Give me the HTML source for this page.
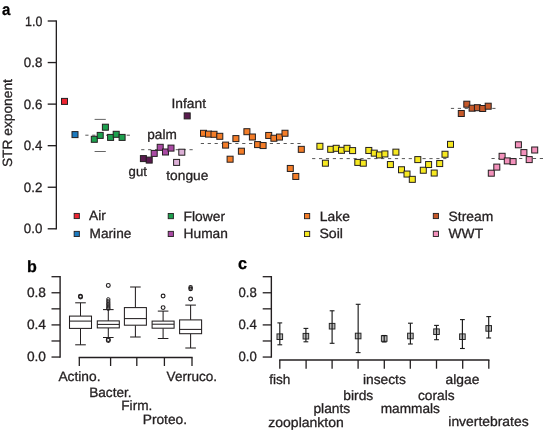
<!DOCTYPE html>
<html><head><meta charset="utf-8"><title>Figure</title>
<style>html,body{margin:0;padding:0;background:#fff}svg{display:block}text{font-family:"Liberation Sans",sans-serif;stroke:#231f20;stroke-width:0.3px;paint-order:stroke;text-rendering:geometricPrecision}</style>
</head><body>
<svg width="543" height="430" viewBox="0 0 543 430">
<rect width="543" height="430" fill="#fff"/>
<line x1="56.35" y1="20.40" x2="56.35" y2="229.40" stroke="#231f20" stroke-width="1.35" stroke-linecap="butt"/>
<line x1="47.70" y1="21.00" x2="56.35" y2="21.00" stroke="#231f20" stroke-width="1.35" stroke-linecap="butt"/>
<text transform="translate(25.10 25.50) scale(0.9166 1)" font-size="13.5" fill="#231f20">1.0</text>
<line x1="47.70" y1="62.56" x2="56.35" y2="62.56" stroke="#231f20" stroke-width="1.35" stroke-linecap="butt"/>
<text transform="translate(23.80 67.06) scale(0.9859 1)" font-size="13.5" fill="#231f20">0.8</text>
<line x1="47.70" y1="104.12" x2="56.35" y2="104.12" stroke="#231f20" stroke-width="1.35" stroke-linecap="butt"/>
<text transform="translate(23.80 108.62) scale(0.9859 1)" font-size="13.5" fill="#231f20">0.6</text>
<line x1="47.70" y1="145.68" x2="56.35" y2="145.68" stroke="#231f20" stroke-width="1.35" stroke-linecap="butt"/>
<text transform="translate(23.80 150.18) scale(0.9859 1)" font-size="13.5" fill="#231f20">0.4</text>
<line x1="47.70" y1="187.24" x2="56.35" y2="187.24" stroke="#231f20" stroke-width="1.35" stroke-linecap="butt"/>
<text transform="translate(23.80 191.74) scale(0.9859 1)" font-size="13.5" fill="#231f20">0.2</text>
<line x1="47.70" y1="228.80" x2="56.35" y2="228.80" stroke="#231f20" stroke-width="1.35" stroke-linecap="butt"/>
<text transform="translate(23.80 233.30) scale(0.9859 1)" font-size="13.5" fill="#231f20">0.0</text>
<text transform="translate(1.90 15.00) scale(0.9230 1)" font-size="16.3" font-weight="700" fill="#000">a</text>
<text transform="translate(12.00 167.10) rotate(-90) scale(1.0281 1)" font-size="13.4" fill="#231f20">STR exponent</text>
<line x1="85.30" y1="135.20" x2="130.30" y2="135.20" stroke="#3a3a3a" stroke-width="0.85" stroke-dasharray="3.2 3.7" stroke-linecap="butt"/>
<line x1="94.60" y1="119.40" x2="105.80" y2="119.40" stroke="#555" stroke-width="0.9" stroke-linecap="butt"/>
<line x1="94.60" y1="151.50" x2="105.80" y2="151.50" stroke="#555" stroke-width="0.9" stroke-linecap="butt"/>
<line x1="141.20" y1="149.70" x2="194.10" y2="149.70" stroke="#3a3a3a" stroke-width="0.85" stroke-dasharray="3.2 3.7" stroke-linecap="butt"/>
<line x1="200.80" y1="143.50" x2="304.10" y2="143.50" stroke="#3a3a3a" stroke-width="0.85" stroke-dasharray="3.2 3.7" stroke-linecap="butt"/>
<line x1="312.10" y1="158.60" x2="449.20" y2="158.60" stroke="#3a3a3a" stroke-width="0.85" stroke-dasharray="3.2 3.7" stroke-linecap="butt"/>
<line x1="450.90" y1="108.40" x2="495.80" y2="108.40" stroke="#3a3a3a" stroke-width="0.85" stroke-dasharray="3.2 3.7" stroke-linecap="butt"/>
<line x1="491.50" y1="158.50" x2="543.00" y2="158.50" stroke="#3a3a3a" stroke-width="0.85" stroke-dasharray="3.2 3.7" stroke-linecap="butt"/>
<rect x="61.50" y="98.40" width="6.00" height="6.00" fill="#ed2431" stroke="#231f20" stroke-width="1.0"/>
<rect x="72.00" y="131.60" width="6.00" height="6.00" fill="#1c7abf" stroke="#231f20" stroke-width="1.0"/>
<rect x="91.30" y="136.30" width="6.00" height="6.00" fill="#1da04e" stroke="#231f20" stroke-width="1.0"/>
<rect x="97.20" y="132.40" width="6.00" height="6.00" fill="#1da04e" stroke="#231f20" stroke-width="1.0"/>
<rect x="102.40" y="124.20" width="6.00" height="6.00" fill="#1da04e" stroke="#231f20" stroke-width="1.0"/>
<rect x="107.60" y="134.40" width="6.00" height="6.00" fill="#1da04e" stroke="#231f20" stroke-width="1.0"/>
<rect x="113.20" y="131.30" width="6.00" height="6.00" fill="#1da04e" stroke="#231f20" stroke-width="1.0"/>
<rect x="119.10" y="134.40" width="6.00" height="6.00" fill="#1da04e" stroke="#231f20" stroke-width="1.0"/>
<rect x="140.40" y="155.60" width="6.00" height="6.00" fill="#5a1a4f" stroke="#231f20" stroke-width="1.0"/>
<rect x="146.20" y="157.10" width="6.00" height="6.00" fill="#5a1a4f" stroke="#231f20" stroke-width="1.0"/>
<rect x="151.20" y="150.40" width="6.00" height="6.00" fill="#a94aa3" stroke="#231f20" stroke-width="1.0"/>
<rect x="157.20" y="144.30" width="6.00" height="6.00" fill="#a94aa3" stroke="#231f20" stroke-width="1.0"/>
<rect x="162.50" y="149.00" width="6.00" height="6.00" fill="#a94aa3" stroke="#231f20" stroke-width="1.0"/>
<rect x="168.00" y="145.10" width="6.00" height="6.00" fill="#a94aa3" stroke="#231f20" stroke-width="1.0"/>
<rect x="178.80" y="149.20" width="6.00" height="6.00" fill="#dcb0d6" stroke="#231f20" stroke-width="1.0"/>
<rect x="173.60" y="159.40" width="6.00" height="6.00" fill="#dcb0d6" stroke="#231f20" stroke-width="1.0"/>
<rect x="184.20" y="112.90" width="6.00" height="6.00" fill="#5a1a4f" stroke="#231f20" stroke-width="1.0"/>
<rect x="200.50" y="130.30" width="6.00" height="6.00" fill="#f47d28" stroke="#231f20" stroke-width="1.0"/>
<rect x="205.50" y="131.10" width="6.00" height="6.00" fill="#f47d28" stroke="#231f20" stroke-width="1.0"/>
<rect x="211.00" y="131.30" width="6.00" height="6.00" fill="#f47d28" stroke="#231f20" stroke-width="1.0"/>
<rect x="216.80" y="133.30" width="6.00" height="6.00" fill="#f47d28" stroke="#231f20" stroke-width="1.0"/>
<rect x="222.60" y="142.10" width="6.00" height="6.00" fill="#f47d28" stroke="#231f20" stroke-width="1.0"/>
<rect x="227.10" y="156.20" width="6.00" height="6.00" fill="#f47d28" stroke="#231f20" stroke-width="1.0"/>
<rect x="232.90" y="135.60" width="6.00" height="6.00" fill="#f47d28" stroke="#231f20" stroke-width="1.0"/>
<rect x="238.40" y="148.20" width="6.00" height="6.00" fill="#f47d28" stroke="#231f20" stroke-width="1.0"/>
<rect x="243.90" y="128.70" width="6.00" height="6.00" fill="#f47d28" stroke="#231f20" stroke-width="1.0"/>
<rect x="249.40" y="134.00" width="6.00" height="6.00" fill="#f47d28" stroke="#231f20" stroke-width="1.0"/>
<rect x="254.60" y="141.60" width="6.00" height="6.00" fill="#f47d28" stroke="#231f20" stroke-width="1.0"/>
<rect x="260.10" y="142.55" width="6.00" height="6.00" fill="#f47d28" stroke="#231f20" stroke-width="1.0"/>
<rect x="265.70" y="132.45" width="6.00" height="6.00" fill="#f47d28" stroke="#231f20" stroke-width="1.0"/>
<rect x="270.90" y="135.25" width="6.00" height="6.00" fill="#f47d28" stroke="#231f20" stroke-width="1.0"/>
<rect x="276.50" y="134.05" width="6.00" height="6.00" fill="#f47d28" stroke="#231f20" stroke-width="1.0"/>
<rect x="282.00" y="130.25" width="6.00" height="6.00" fill="#f47d28" stroke="#231f20" stroke-width="1.0"/>
<rect x="287.30" y="165.45" width="6.00" height="6.00" fill="#f47d28" stroke="#231f20" stroke-width="1.0"/>
<rect x="292.80" y="173.45" width="6.00" height="6.00" fill="#f47d28" stroke="#231f20" stroke-width="1.0"/>
<rect x="298.30" y="146.35" width="6.00" height="6.00" fill="#f47d28" stroke="#231f20" stroke-width="1.0"/>
<rect x="316.90" y="143.30" width="6.00" height="6.00" fill="#f6e820" stroke="#231f20" stroke-width="1.0"/>
<rect x="322.40" y="160.20" width="6.00" height="6.00" fill="#f6e820" stroke="#231f20" stroke-width="1.0"/>
<rect x="327.70" y="146.30" width="6.00" height="6.00" fill="#f6e820" stroke="#231f20" stroke-width="1.0"/>
<rect x="333.20" y="145.30" width="6.00" height="6.00" fill="#f6e820" stroke="#231f20" stroke-width="1.0"/>
<rect x="338.50" y="147.30" width="6.00" height="6.00" fill="#f6e820" stroke="#231f20" stroke-width="1.0"/>
<rect x="344.00" y="145.30" width="6.00" height="6.00" fill="#f6e820" stroke="#231f20" stroke-width="1.0"/>
<rect x="349.60" y="147.60" width="6.00" height="6.00" fill="#f6e820" stroke="#231f20" stroke-width="1.0"/>
<rect x="354.80" y="159.40" width="6.00" height="6.00" fill="#f6e820" stroke="#231f20" stroke-width="1.0"/>
<rect x="360.30" y="160.20" width="6.00" height="6.00" fill="#f6e820" stroke="#231f20" stroke-width="1.0"/>
<rect x="365.80" y="147.45" width="6.00" height="6.00" fill="#f6e820" stroke="#231f20" stroke-width="1.0"/>
<rect x="371.25" y="150.15" width="6.00" height="6.00" fill="#f6e820" stroke="#231f20" stroke-width="1.0"/>
<rect x="376.40" y="151.95" width="6.00" height="6.00" fill="#f6e820" stroke="#231f20" stroke-width="1.0"/>
<rect x="381.90" y="150.95" width="6.00" height="6.00" fill="#f6e820" stroke="#231f20" stroke-width="1.0"/>
<rect x="387.40" y="161.55" width="6.00" height="6.00" fill="#f6e820" stroke="#231f20" stroke-width="1.0"/>
<rect x="392.90" y="149.15" width="6.00" height="6.00" fill="#f6e820" stroke="#231f20" stroke-width="1.0"/>
<rect x="398.50" y="166.75" width="6.00" height="6.00" fill="#f6e820" stroke="#231f20" stroke-width="1.0"/>
<rect x="404.00" y="171.05" width="6.00" height="6.00" fill="#f6e820" stroke="#231f20" stroke-width="1.0"/>
<rect x="409.30" y="176.35" width="6.00" height="6.00" fill="#f6e820" stroke="#231f20" stroke-width="1.0"/>
<rect x="414.80" y="156.60" width="6.00" height="6.00" fill="#f6e820" stroke="#231f20" stroke-width="1.0"/>
<rect x="420.30" y="167.25" width="6.00" height="6.00" fill="#f6e820" stroke="#231f20" stroke-width="1.0"/>
<rect x="425.60" y="161.55" width="6.00" height="6.00" fill="#f6e820" stroke="#231f20" stroke-width="1.0"/>
<rect x="431.20" y="170.05" width="6.00" height="6.00" fill="#f6e820" stroke="#231f20" stroke-width="1.0"/>
<rect x="436.70" y="160.55" width="6.00" height="6.00" fill="#f6e820" stroke="#231f20" stroke-width="1.0"/>
<rect x="442.00" y="151.25" width="6.00" height="6.00" fill="#f6e820" stroke="#231f20" stroke-width="1.0"/>
<rect x="447.50" y="141.35" width="6.00" height="6.00" fill="#f6e820" stroke="#231f20" stroke-width="1.0"/>
<rect x="458.30" y="110.50" width="6.00" height="6.00" fill="#c6592a" stroke="#231f20" stroke-width="1.0"/>
<rect x="463.80" y="101.20" width="6.00" height="6.00" fill="#c6592a" stroke="#231f20" stroke-width="1.0"/>
<rect x="469.10" y="105.20" width="6.00" height="6.00" fill="#c6592a" stroke="#231f20" stroke-width="1.0"/>
<rect x="474.40" y="104.70" width="6.00" height="6.00" fill="#c6592a" stroke="#231f20" stroke-width="1.0"/>
<rect x="479.70" y="105.50" width="6.00" height="6.00" fill="#c6592a" stroke="#231f20" stroke-width="1.0"/>
<rect x="485.20" y="103.20" width="6.00" height="6.00" fill="#c6592a" stroke="#231f20" stroke-width="1.0"/>
<rect x="488.30" y="170.20" width="6.00" height="6.00" fill="#f391bb" stroke="#231f20" stroke-width="1.0"/>
<rect x="493.80" y="164.10" width="6.00" height="6.00" fill="#f391bb" stroke="#231f20" stroke-width="1.0"/>
<rect x="499.10" y="153.30" width="6.00" height="6.00" fill="#f391bb" stroke="#231f20" stroke-width="1.0"/>
<rect x="504.30" y="157.90" width="6.00" height="6.00" fill="#f391bb" stroke="#231f20" stroke-width="1.0"/>
<rect x="510.10" y="158.60" width="6.00" height="6.00" fill="#f391bb" stroke="#231f20" stroke-width="1.0"/>
<rect x="515.40" y="141.80" width="6.00" height="6.00" fill="#f391bb" stroke="#231f20" stroke-width="1.0"/>
<rect x="520.90" y="149.60" width="6.00" height="6.00" fill="#f391bb" stroke="#231f20" stroke-width="1.0"/>
<rect x="526.20" y="156.60" width="6.00" height="6.00" fill="#f391bb" stroke="#231f20" stroke-width="1.0"/>
<rect x="531.70" y="147.00" width="6.00" height="6.00" fill="#f391bb" stroke="#231f20" stroke-width="1.0"/>
<text transform="translate(171.50 107.60) scale(1.0222 1)" font-size="13.5" fill="#231f20">Infant</text>
<text transform="translate(147.30 139.10) scale(1.0070 1)" font-size="13.5" fill="#231f20">palm</text>
<text transform="translate(128.60 176.40) scale(0.9752 1)" font-size="13.5" fill="#231f20">gut</text>
<text transform="translate(166.30 179.60) scale(1.0167 1)" font-size="13.5" fill="#231f20">tongue</text>
<rect x="74.15" y="213.40" width="5.20" height="5.20" fill="#ed2431" stroke="#231f20" stroke-width="0.9"/>
<text transform="translate(89.10 220.40) scale(1.0200 1)" font-size="13.5" fill="#231f20">Air</text>
<rect x="74.15" y="231.35" width="5.20" height="5.20" fill="#1c7abf" stroke="#231f20" stroke-width="0.9"/>
<text transform="translate(89.60 238.00) scale(1.0111 1)" font-size="13.5" fill="#231f20">Marine</text>
<rect x="168.20" y="213.50" width="5.20" height="5.20" fill="#1da04e" stroke="#231f20" stroke-width="0.9"/>
<text transform="translate(183.60 220.70) scale(1.0222 1)" font-size="13.5" fill="#231f20">Flower</text>
<rect x="168.20" y="231.35" width="5.20" height="5.20" fill="#a94aa3" stroke="#231f20" stroke-width="0.9"/>
<text transform="translate(183.60 238.30) scale(1.0175 1)" font-size="13.5" fill="#231f20">Human</text>
<rect x="304.50" y="213.50" width="5.20" height="5.20" fill="#f47d28" stroke="#231f20" stroke-width="0.9"/>
<text transform="translate(319.80 220.70) scale(1.0275 1)" font-size="13.5" fill="#231f20">Lake</text>
<rect x="304.50" y="231.35" width="5.20" height="5.20" fill="#f6e820" stroke="#231f20" stroke-width="0.9"/>
<text transform="translate(319.40 238.10) scale(1.0468 1)" font-size="13.5" fill="#231f20">Soil</text>
<rect x="433.30" y="213.40" width="5.20" height="5.20" fill="#c6592a" stroke="#231f20" stroke-width="0.9"/>
<text transform="translate(448.60 220.60) scale(1.0244 1)" font-size="13.5" fill="#231f20">Stream</text>
<rect x="433.30" y="231.25" width="5.20" height="5.20" fill="#f391bb" stroke="#231f20" stroke-width="0.9"/>
<text transform="translate(448.60 238.10) scale(1.0222 1)" font-size="13.5" fill="#231f20">WWT</text>
<line x1="60.10" y1="276.05" x2="60.10" y2="357.70" stroke="#231f20" stroke-width="1.4" stroke-linecap="butt"/>
<line x1="51.50" y1="276.70" x2="60.10" y2="276.70" stroke="#231f20" stroke-width="1.3" stroke-linecap="butt"/>
<line x1="51.50" y1="292.77" x2="60.10" y2="292.77" stroke="#231f20" stroke-width="1.3" stroke-linecap="butt"/>
<line x1="51.50" y1="308.84" x2="60.10" y2="308.84" stroke="#231f20" stroke-width="1.3" stroke-linecap="butt"/>
<line x1="51.50" y1="324.91" x2="60.10" y2="324.91" stroke="#231f20" stroke-width="1.3" stroke-linecap="butt"/>
<line x1="51.50" y1="340.98" x2="60.10" y2="340.98" stroke="#231f20" stroke-width="1.3" stroke-linecap="butt"/>
<line x1="51.50" y1="357.05" x2="60.10" y2="357.05" stroke="#231f20" stroke-width="1.3" stroke-linecap="butt"/>
<text transform="translate(26.90 297.07) scale(1.0179 1)" font-size="13.5" fill="#231f20">0.8</text>
<text transform="translate(26.90 329.21) scale(1.0179 1)" font-size="13.5" fill="#231f20">0.4</text>
<text transform="translate(26.90 361.35) scale(1.0179 1)" font-size="13.5" fill="#231f20">0.0</text>
<text transform="translate(27.10 272.00) scale(0.9856 1)" font-size="16.3" font-weight="700" fill="#000">b</text>
<line x1="80.50" y1="302.80" x2="80.50" y2="316.10" stroke="#231f20" stroke-width="1.05" stroke-linecap="butt"/>
<line x1="80.50" y1="328.40" x2="80.50" y2="344.80" stroke="#231f20" stroke-width="1.05" stroke-linecap="butt"/>
<line x1="75.20" y1="302.80" x2="85.80" y2="302.80" stroke="#231f20" stroke-width="1.05" stroke-linecap="butt"/>
<line x1="75.20" y1="344.80" x2="85.80" y2="344.80" stroke="#231f20" stroke-width="1.05" stroke-linecap="butt"/>
<rect x="69.50" y="316.10" width="22.00" height="12.30" fill="#fff" stroke="#231f20" stroke-width="1.05"/>
<line x1="69.50" y1="321.10" x2="91.50" y2="321.10" stroke="#231f20" stroke-width="1.05" stroke-linecap="butt"/>
<circle cx="80.40" cy="296.30" r="1.9" fill="none" stroke="#231f20" stroke-width="1.15"/>
<circle cx="80.60" cy="296.90" r="1.9" fill="none" stroke="#231f20" stroke-width="1.15"/>
<line x1="108.30" y1="309.60" x2="108.30" y2="320.90" stroke="#231f20" stroke-width="1.05" stroke-linecap="butt"/>
<line x1="108.30" y1="327.90" x2="108.30" y2="337.50" stroke="#231f20" stroke-width="1.05" stroke-linecap="butt"/>
<line x1="103.00" y1="309.60" x2="113.60" y2="309.60" stroke="#231f20" stroke-width="1.05" stroke-linecap="butt"/>
<line x1="103.00" y1="337.50" x2="113.60" y2="337.50" stroke="#231f20" stroke-width="1.05" stroke-linecap="butt"/>
<rect x="97.30" y="320.90" width="22.00" height="7.00" fill="#fff" stroke="#231f20" stroke-width="1.05"/>
<line x1="97.30" y1="324.40" x2="119.30" y2="324.40" stroke="#231f20" stroke-width="1.05" stroke-linecap="butt"/>
<circle cx="108.30" cy="285.40" r="1.9" fill="none" stroke="#231f20" stroke-width="1.15"/>
<circle cx="108.30" cy="299.30" r="1.7" fill="none" stroke="#231f20" stroke-width="0.9"/>
<circle cx="108.30" cy="301.00" r="1.7" fill="none" stroke="#231f20" stroke-width="0.9"/>
<circle cx="108.30" cy="302.60" r="1.7" fill="none" stroke="#231f20" stroke-width="0.9"/>
<circle cx="108.30" cy="304.00" r="1.7" fill="none" stroke="#231f20" stroke-width="0.9"/>
<circle cx="108.30" cy="305.30" r="1.7" fill="none" stroke="#231f20" stroke-width="0.9"/>
<circle cx="108.30" cy="306.60" r="1.7" fill="none" stroke="#231f20" stroke-width="0.9"/>
<circle cx="108.30" cy="307.80" r="1.7" fill="none" stroke="#231f20" stroke-width="0.9"/>
<circle cx="108.30" cy="308.80" r="1.7" fill="none" stroke="#231f20" stroke-width="0.9"/>
<circle cx="108.30" cy="339.60" r="1.9" fill="none" stroke="#231f20" stroke-width="1.15"/>
<circle cx="108.30" cy="340.40" r="1.9" fill="none" stroke="#231f20" stroke-width="1.15"/>
<line x1="135.40" y1="287.00" x2="135.40" y2="307.60" stroke="#231f20" stroke-width="1.05" stroke-linecap="butt"/>
<line x1="135.40" y1="325.20" x2="135.40" y2="337.00" stroke="#231f20" stroke-width="1.05" stroke-linecap="butt"/>
<line x1="130.10" y1="287.00" x2="140.70" y2="287.00" stroke="#231f20" stroke-width="1.05" stroke-linecap="butt"/>
<line x1="130.10" y1="337.00" x2="140.70" y2="337.00" stroke="#231f20" stroke-width="1.05" stroke-linecap="butt"/>
<rect x="124.40" y="307.60" width="22.00" height="17.60" fill="#fff" stroke="#231f20" stroke-width="1.05"/>
<line x1="124.40" y1="318.60" x2="146.40" y2="318.60" stroke="#231f20" stroke-width="1.05" stroke-linecap="butt"/>
<line x1="163.10" y1="311.10" x2="163.10" y2="321.10" stroke="#231f20" stroke-width="1.05" stroke-linecap="butt"/>
<line x1="163.10" y1="328.20" x2="163.10" y2="338.50" stroke="#231f20" stroke-width="1.05" stroke-linecap="butt"/>
<line x1="157.80" y1="311.10" x2="168.40" y2="311.10" stroke="#231f20" stroke-width="1.05" stroke-linecap="butt"/>
<line x1="157.80" y1="338.50" x2="168.40" y2="338.50" stroke="#231f20" stroke-width="1.05" stroke-linecap="butt"/>
<rect x="152.10" y="321.10" width="22.00" height="7.10" fill="#fff" stroke="#231f20" stroke-width="1.05"/>
<line x1="152.10" y1="324.20" x2="174.10" y2="324.20" stroke="#231f20" stroke-width="1.05" stroke-linecap="butt"/>
<circle cx="163.10" cy="296.00" r="1.9" fill="none" stroke="#231f20" stroke-width="1.15"/>
<circle cx="163.10" cy="307.60" r="1.9" fill="none" stroke="#231f20" stroke-width="1.15"/>
<line x1="190.60" y1="305.10" x2="190.60" y2="319.90" stroke="#231f20" stroke-width="1.05" stroke-linecap="butt"/>
<line x1="190.60" y1="333.70" x2="190.60" y2="348.00" stroke="#231f20" stroke-width="1.05" stroke-linecap="butt"/>
<line x1="185.30" y1="305.10" x2="195.90" y2="305.10" stroke="#231f20" stroke-width="1.05" stroke-linecap="butt"/>
<line x1="185.30" y1="348.00" x2="195.90" y2="348.00" stroke="#231f20" stroke-width="1.05" stroke-linecap="butt"/>
<rect x="179.60" y="319.90" width="22.00" height="13.80" fill="#fff" stroke="#231f20" stroke-width="1.05"/>
<line x1="179.60" y1="329.40" x2="201.60" y2="329.40" stroke="#231f20" stroke-width="1.05" stroke-linecap="butt"/>
<circle cx="190.60" cy="299.00" r="1.9" fill="none" stroke="#231f20" stroke-width="1.15"/>
<circle cx="190.60" cy="287.40" r="1.7" fill="none" stroke="#231f20" stroke-width="1.15"/>
<circle cx="190.60" cy="288.90" r="1.7" fill="none" stroke="#231f20" stroke-width="1.15"/>
<line x1="78.65" y1="357.50" x2="192.65" y2="357.50" stroke="#231f20" stroke-width="1.4" stroke-linecap="butt"/>
<line x1="79.30" y1="357.50" x2="79.30" y2="366.00" stroke="#231f20" stroke-width="1.3" stroke-linecap="butt"/>
<line x1="110.60" y1="357.50" x2="110.60" y2="366.00" stroke="#231f20" stroke-width="1.3" stroke-linecap="butt"/>
<line x1="136.80" y1="357.50" x2="136.80" y2="366.00" stroke="#231f20" stroke-width="1.3" stroke-linecap="butt"/>
<line x1="164.40" y1="357.50" x2="164.40" y2="366.00" stroke="#231f20" stroke-width="1.3" stroke-linecap="butt"/>
<line x1="192.00" y1="357.50" x2="192.00" y2="366.00" stroke="#231f20" stroke-width="1.3" stroke-linecap="butt"/>
<text transform="translate(58.40 381.20) scale(1.0208 1)" font-size="13.5" fill="#231f20">Actino.</text>
<text transform="translate(166.60 381.20) scale(1.0022 1)" font-size="13.5" fill="#231f20">Verruco.</text>
<text transform="translate(89.20 397.40) scale(1.0083 1)" font-size="13.5" fill="#231f20">Bacter.</text>
<text transform="translate(121.30 410.40) scale(1.0094 1)" font-size="13.5" fill="#231f20">Firm.</text>
<text transform="translate(142.70 424.20) scale(1.0198 1)" font-size="13.5" fill="#231f20">Proteo.</text>
<line x1="271.35" y1="276.05" x2="271.35" y2="357.70" stroke="#231f20" stroke-width="1.4" stroke-linecap="butt"/>
<line x1="262.70" y1="276.70" x2="271.35" y2="276.70" stroke="#231f20" stroke-width="1.3" stroke-linecap="butt"/>
<line x1="262.70" y1="292.77" x2="271.35" y2="292.77" stroke="#231f20" stroke-width="1.3" stroke-linecap="butt"/>
<line x1="262.70" y1="308.84" x2="271.35" y2="308.84" stroke="#231f20" stroke-width="1.3" stroke-linecap="butt"/>
<line x1="262.70" y1="324.91" x2="271.35" y2="324.91" stroke="#231f20" stroke-width="1.3" stroke-linecap="butt"/>
<line x1="262.70" y1="340.98" x2="271.35" y2="340.98" stroke="#231f20" stroke-width="1.3" stroke-linecap="butt"/>
<line x1="262.70" y1="357.05" x2="271.35" y2="357.05" stroke="#231f20" stroke-width="1.3" stroke-linecap="butt"/>
<text transform="translate(238.50 297.07) scale(0.9752 1)" font-size="13.5" fill="#231f20">0.8</text>
<text transform="translate(238.50 329.21) scale(0.9752 1)" font-size="13.5" fill="#231f20">0.4</text>
<text transform="translate(238.50 361.35) scale(0.9752 1)" font-size="13.5" fill="#231f20">0.0</text>
<text transform="translate(237.90 269.30) scale(0.9769 1)" font-size="16.6" font-weight="700" fill="#000">c</text>
<rect x="277.00" y="333.90" width="5.6" height="5.6" fill="#b9b9b9" stroke="#262626" stroke-width="1.0"/>
<line x1="279.80" y1="322.90" x2="279.80" y2="344.80" stroke="#1a1a1a" stroke-width="1.15" stroke-linecap="butt"/>
<line x1="277.40" y1="322.90" x2="282.20" y2="322.90" stroke="#1a1a1a" stroke-width="1.1" stroke-linecap="butt"/>
<line x1="277.40" y1="344.80" x2="282.20" y2="344.80" stroke="#1a1a1a" stroke-width="1.1" stroke-linecap="butt"/>
<rect x="303.10" y="333.40" width="5.6" height="5.6" fill="#b9b9b9" stroke="#262626" stroke-width="1.0"/>
<line x1="305.90" y1="328.40" x2="305.90" y2="341.80" stroke="#1a1a1a" stroke-width="1.15" stroke-linecap="butt"/>
<line x1="303.50" y1="328.40" x2="308.30" y2="328.40" stroke="#1a1a1a" stroke-width="1.1" stroke-linecap="butt"/>
<line x1="303.50" y1="341.80" x2="308.30" y2="341.80" stroke="#1a1a1a" stroke-width="1.1" stroke-linecap="butt"/>
<rect x="329.30" y="323.40" width="5.6" height="5.6" fill="#b9b9b9" stroke="#262626" stroke-width="1.0"/>
<line x1="332.10" y1="310.80" x2="332.10" y2="343.30" stroke="#1a1a1a" stroke-width="1.15" stroke-linecap="butt"/>
<line x1="329.70" y1="310.80" x2="334.50" y2="310.80" stroke="#1a1a1a" stroke-width="1.1" stroke-linecap="butt"/>
<line x1="329.70" y1="343.30" x2="334.50" y2="343.30" stroke="#1a1a1a" stroke-width="1.1" stroke-linecap="butt"/>
<rect x="355.35" y="333.20" width="5.6" height="5.6" fill="#b9b9b9" stroke="#262626" stroke-width="1.0"/>
<line x1="358.15" y1="304.30" x2="358.15" y2="352.60" stroke="#1a1a1a" stroke-width="1.15" stroke-linecap="butt"/>
<line x1="355.75" y1="304.30" x2="360.55" y2="304.30" stroke="#1a1a1a" stroke-width="1.1" stroke-linecap="butt"/>
<line x1="355.75" y1="352.60" x2="360.55" y2="352.60" stroke="#1a1a1a" stroke-width="1.1" stroke-linecap="butt"/>
<rect x="381.40" y="335.70" width="5.6" height="5.6" fill="#b9b9b9" stroke="#262626" stroke-width="1.0"/>
<line x1="384.20" y1="335.50" x2="384.20" y2="342.00" stroke="#1a1a1a" stroke-width="1.15" stroke-linecap="butt"/>
<line x1="381.80" y1="335.50" x2="386.60" y2="335.50" stroke="#1a1a1a" stroke-width="1.1" stroke-linecap="butt"/>
<line x1="381.80" y1="342.00" x2="386.60" y2="342.00" stroke="#1a1a1a" stroke-width="1.1" stroke-linecap="butt"/>
<rect x="407.60" y="333.20" width="5.6" height="5.6" fill="#b9b9b9" stroke="#262626" stroke-width="1.0"/>
<line x1="410.40" y1="323.20" x2="410.40" y2="344.00" stroke="#1a1a1a" stroke-width="1.15" stroke-linecap="butt"/>
<line x1="408.00" y1="323.20" x2="412.80" y2="323.20" stroke="#1a1a1a" stroke-width="1.1" stroke-linecap="butt"/>
<line x1="408.00" y1="344.00" x2="412.80" y2="344.00" stroke="#1a1a1a" stroke-width="1.1" stroke-linecap="butt"/>
<rect x="433.70" y="328.90" width="5.6" height="5.6" fill="#b9b9b9" stroke="#262626" stroke-width="1.0"/>
<line x1="436.50" y1="325.40" x2="436.50" y2="339.70" stroke="#1a1a1a" stroke-width="1.15" stroke-linecap="butt"/>
<line x1="434.10" y1="325.40" x2="438.90" y2="325.40" stroke="#1a1a1a" stroke-width="1.1" stroke-linecap="butt"/>
<line x1="434.10" y1="339.70" x2="438.90" y2="339.70" stroke="#1a1a1a" stroke-width="1.1" stroke-linecap="butt"/>
<rect x="459.60" y="333.90" width="5.6" height="5.6" fill="#b9b9b9" stroke="#262626" stroke-width="1.0"/>
<line x1="462.40" y1="319.60" x2="462.40" y2="348.50" stroke="#1a1a1a" stroke-width="1.15" stroke-linecap="butt"/>
<line x1="460.00" y1="319.60" x2="464.80" y2="319.60" stroke="#1a1a1a" stroke-width="1.1" stroke-linecap="butt"/>
<line x1="460.00" y1="348.50" x2="464.80" y2="348.50" stroke="#1a1a1a" stroke-width="1.1" stroke-linecap="butt"/>
<rect x="485.90" y="325.60" width="5.6" height="5.6" fill="#b9b9b9" stroke="#262626" stroke-width="1.0"/>
<line x1="488.70" y1="316.60" x2="488.70" y2="338.00" stroke="#1a1a1a" stroke-width="1.15" stroke-linecap="butt"/>
<line x1="486.30" y1="316.60" x2="491.10" y2="316.60" stroke="#1a1a1a" stroke-width="1.1" stroke-linecap="butt"/>
<line x1="486.30" y1="338.00" x2="491.10" y2="338.00" stroke="#1a1a1a" stroke-width="1.1" stroke-linecap="butt"/>
<line x1="279.15" y1="360.00" x2="489.45" y2="360.00" stroke="#231f20" stroke-width="1.4" stroke-linecap="butt"/>
<line x1="279.80" y1="360.00" x2="279.80" y2="368.70" stroke="#231f20" stroke-width="1.3" stroke-linecap="butt"/>
<line x1="306.10" y1="360.00" x2="306.10" y2="368.70" stroke="#231f20" stroke-width="1.3" stroke-linecap="butt"/>
<line x1="332.10" y1="360.00" x2="332.10" y2="368.70" stroke="#231f20" stroke-width="1.3" stroke-linecap="butt"/>
<line x1="358.10" y1="360.00" x2="358.10" y2="368.70" stroke="#231f20" stroke-width="1.3" stroke-linecap="butt"/>
<line x1="384.30" y1="360.00" x2="384.30" y2="368.70" stroke="#231f20" stroke-width="1.3" stroke-linecap="butt"/>
<line x1="410.30" y1="360.00" x2="410.30" y2="368.70" stroke="#231f20" stroke-width="1.3" stroke-linecap="butt"/>
<line x1="436.50" y1="360.00" x2="436.50" y2="368.70" stroke="#231f20" stroke-width="1.3" stroke-linecap="butt"/>
<line x1="462.70" y1="360.00" x2="462.70" y2="368.70" stroke="#231f20" stroke-width="1.3" stroke-linecap="butt"/>
<line x1="488.80" y1="360.00" x2="488.80" y2="368.70" stroke="#231f20" stroke-width="1.3" stroke-linecap="butt"/>
<text transform="translate(269.20 383.80) scale(1.0099 1)" font-size="13.5" fill="#231f20">fish</text>
<text transform="translate(362.90 384.20) scale(1.0218 1)" font-size="13.5" fill="#231f20">insects</text>
<text transform="translate(445.60 384.20) scale(1.0240 1)" font-size="13.5" fill="#231f20">algae</text>
<text transform="translate(343.30 399.80) scale(1.0241 1)" font-size="13.5" fill="#231f20">birds</text>
<text transform="translate(418.00 399.90) scale(1.0154 1)" font-size="13.5" fill="#231f20">corals</text>
<text transform="translate(313.40 413.00) scale(1.0209 1)" font-size="13.5" fill="#231f20">plants</text>
<text transform="translate(380.70 413.40) scale(1.0116 1)" font-size="13.5" fill="#231f20">mammals</text>
<text transform="translate(268.30 426.50) scale(1.0366 1)" font-size="13.5" fill="#231f20">zooplankton</text>
<text transform="translate(448.30 426.40) scale(1.0291 1)" font-size="13.5" fill="#231f20">invertebrates</text>
</svg>
</body></html>
